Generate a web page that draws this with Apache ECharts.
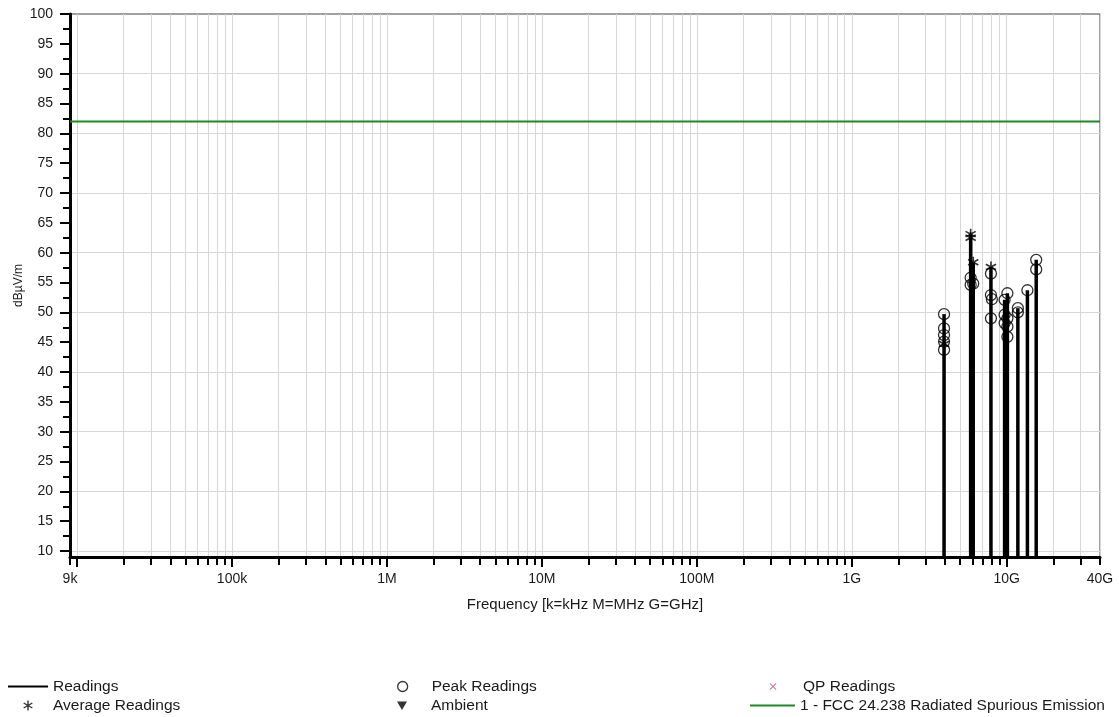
<!DOCTYPE html>
<html><head><meta charset="utf-8">
<script src="https://cdn.jsdelivr.net/npm/echarts@6/dist/echarts.min.js"></script>
<style>html,body{margin:0;padding:0;background:#fff}#c{width:1119px;height:717px}</style>
</head><body><div id="c"></div>
<script>
// ---- data ----
const readingFreqsGHz = [3.94, 5.85, 6.08, 7.91, 9.69, 10.1, 11.8, 13.6, 15.5];
const readingLevels   = [49.7, 63.1, 58.4, 57.6, 52.1, 53.2, 50.7, 53.7, 58.8];

const peakFreqsGHz = [3.94, 3.94, 3.94, 3.94, 3.94, 5.85, 5.85, 6.08, 7.91, 7.91, 8.02, 7.91, 9.69, 9.69, 9.69, 10.1, 10.1, 10.1, 10.1, 11.8, 11.8, 13.6, 15.5, 15.5];
const peakLevels   = [49.7, 47.3, 46.2, 45.1, 43.7, 55.8, 54.6, 54.8, 56.5, 52.9, 52.2, 49.0, 52.1, 49.6, 48.2, 53.2, 49.0, 47.6, 45.9, 50.7, 50.0, 53.7, 58.8, 57.2];

const avgFreqsGHz = [3.94, 5.85, 5.85, 6.08, 7.91];
const avgLevels   = [44.7, 63.1, 62.5, 58.4, 57.6];

const ambientData = [];
const qpData = [];

const limitName = '1 - FCC 24.238 Radiated Spurious Emission';
const limitFreqsHz = [9e3, 4e10];
const limitLevels  = [82, 82];

const xLabelValues = [9e3, 1e5, 1e6, 1e7, 1e8, 1e9, 1e10, 4e10];
const xLabelTexts  = ['9k', '100k', '1M', '10M', '100M', '1G', '10G', '40G'];
const xDecadeExps  = [3, 4, 5, 6, 7, 8, 9, 10];
const xTickMultipliers = [1, 2, 3, 4, 5, 6, 7, 8, 9];
const xMajorTickValues = [1e4, 1e5, 1e6, 1e7, 1e8, 1e9, 1e10];

const yLabelValues = [10, 15, 20, 25, 30, 35, 40, 45, 50, 55, 60, 65, 70, 75, 80, 85, 90, 95, 100];
const yMinorTickValues = [12.5, 17.5, 22.5, 27.5, 32.5, 37.5, 42.5, 47.5, 52.5, 57.5, 62.5, 67.5, 72.5, 77.5, 82.5, 87.5, 92.5, 97.5];
const yGridValues = [10, 20, 30, 40, 50, 60, 70, 80, 90];

const X_MIN = 9e3, X_MAX = 4e10, Y_MIN = 9, Y_MAX = 100;
// ---------------------------------------------------

const xTickValues = [];
xDecadeExps.forEach(e => xTickMultipliers.forEach(m => {
  const v = m * Math.pow(10, e);
  if (v >= X_MIN - 1e-6 && v <= X_MAX + 1e-6) xTickValues.push(v);
}));

const FONT = 'Liberation Sans, Arial, sans-serif';
const TXT = '#1a1a1a';
const GRID_C = '#d6d6d6';
const LIMIT_C = '#1f8a24';
const QP_C = '#c05a7a';

// marker symbols (10x10 box)
const asteriskPath = 'path://M4.3,0 L5.7,0 L5.7,10 L4.3,10 Z M1.02,1.89 L9.68,6.89 L8.98,8.11 L0.32,3.11 Z M0.32,6.89 L8.98,1.89 L9.68,3.11 L1.02,8.11 Z';
const crossPath = 'path://M1,0 L5,4 L9,0 L10,1 L6,5 L10,9 L9,10 L5,6 L1,10 L0,9 L4,5 L0,1 Z';
const triPath = 'path://M0,0 L10,0 L5,9 Z';

// legend icons drawn inside a full W x 11 box (corner anchors keep the box)
function box(w) { return 'M0,0 L0,0 M' + w + ',11 L' + w + ',11 '; }
function lineIcon(w) { return 'path://' + box(w) + 'M0,4.5 L' + w + ',4.5 L' + w + ',6.5 L0,6.5 Z'; }
function asteriskIcon(w) {
  const c = w / 2 - 5;
  const pts = [[[4.3,0],[5.7,0],[5.7,10],[4.3,10]], [[1.02,1.89],[9.68,6.89],[8.98,8.11],[0.32,3.11]], [[0.32,6.89],[8.98,1.89],[9.68,3.11],[1.02,8.11]]];
  return 'path://' + box(w) + pts.map(p => 'M' + p.map(q => (q[0] + c).toFixed(2) + ',' + (q[1] + 0.5).toFixed(2)).join(' L') + ' Z').join(' ');
}
function circleIcon(w) {
  const cx = w / 2, r = 5;
  return 'path://' + box(w) + 'M' + (cx + r) + ',5.5 A' + r + ',' + r + ' 0 1 1 ' + (cx - r) + ',5.5 A' + r + ',' + r + ' 0 1 1 ' + (cx + r) + ',5.5 Z';
}
function triIcon(w) { const cx = w / 2; return 'path://' + box(w) + 'M' + (cx - 5) + ',1.5 L' + (cx + 5) + ',1.5 L' + cx + ',10 Z'; }
function crossIcon(w) {
  const c = w / 2 - 3.5, s = 0.7;
  const p = [[1,0],[5,4],[9,0],[10,1],[6,5],[10,9],[9,10],[5,6],[1,10],[0,9],[4,5],[0,1]];
  return 'path://' + box(w) + 'M' + p.map(q => (q[0] * s + c).toFixed(2) + ',' + (q[1] * s + 2).toFixed(2)).join(' L') + ' Z';
}

const toHz = (arrF, arrV) => arrF.map((f, i) => [f * 1e9, arrV[i]]);

const chart = echarts.init(document.getElementById('c'), null, {renderer: 'canvas'});
const baseX = {type: 'log', logBase: 10, min: X_MIN, max: X_MAX, gridIndex: 0, position: 'bottom'};
const baseY = {type: 'value', min: Y_MIN, max: Y_MAX, gridIndex: 0, position: 'left'};

const legendText = {fontSize: 15.5, color: TXT, fontFamily: FONT, lineHeight: 17};
function oneLegend(left, top, w, item) {
  return {left: left, top: top, orient: 'vertical', itemWidth: w, itemHeight: 11, selectedMode: false,
    symbolKeepAspect: false, padding: 0, textStyle: legendText, data: [item]};
}
const ROW1 = 678, ROW2 = 697;

chart.setOption({
  animation: false,
  backgroundColor: '#fff',
  textStyle: {fontFamily: FONT},
  grid: {left: 70, right: 19, top: 14, bottom: 160, show: true, borderColor: '#444', borderWidth: 1},
  xAxis: [
    Object.assign({}, baseX, {
      name: 'Frequency [k=kHz M=MHz G=GHz]', nameLocation: 'middle', nameGap: 40,
      nameTextStyle: {fontSize: 15, color: TXT, fontFamily: FONT},
      axisLine: {show: true, lineStyle: {color: '#000', width: 3}},
      axisTick: {show: true, inside: false, length: 8, lineStyle: {color: '#000', width: 2}, customValues: xTickValues},
      axisLabel: {show: true, margin: 15, fontSize: 14, color: TXT, fontFamily: FONT, customValues: xLabelValues,
        showMinLabel: true, showMaxLabel: true,
        formatter: function (v) {
          for (let i = 0; i < xLabelValues.length; i++) if (Math.abs(v / xLabelValues[i] - 1) < 1e-6) return xLabelTexts[i];
          return '';
        }},
      splitLine: {show: true, lineStyle: {color: GRID_C, width: 1}},
      minorTick: {show: false}, minorSplitLine: {show: false}
    }),
    Object.assign({}, baseX, {
      axisLine: {show: false},
      axisTick: {show: true, inside: false, length: 10, lineStyle: {color: '#000', width: 2}, customValues: xMajorTickValues},
      axisLabel: {show: false},
      splitLine: {show: false}
    })
  ],
  yAxis: [
    Object.assign({}, baseY, {
      name: 'dBµV/m', nameLocation: 'middle', nameRotate: 90, nameGap: 45, nameMoveOverlap: false,
      nameTextStyle: {fontSize: 12, color: TXT, fontFamily: FONT},
      axisLine: {show: true, lineStyle: {color: '#000', width: 3}},
      axisTick: {show: true, length: 10, lineStyle: {color: '#000', width: 2}, customValues: yLabelValues},
      axisLabel: {show: true, margin: 17, fontSize: 14, color: TXT, fontFamily: FONT, customValues: yLabelValues},
      splitLine: {show: false}
    }),
    Object.assign({}, baseY, {
      axisLine: {show: false},
      axisTick: {show: true, length: 7, lineStyle: {color: '#000', width: 2}, customValues: yMinorTickValues},
      axisLabel: {show: false},
      splitLine: {show: false}
    }),
    Object.assign({}, baseY, {
      axisLine: {show: false},
      axisTick: {show: false, customValues: yGridValues},
      axisLabel: {show: false},
      splitLine: {show: true, lineStyle: {color: GRID_C, width: 1}}
    })
  ],
  legend: [
    oneLegend(8, ROW1, 40, {name: 'Readings', icon: lineIcon(40), itemStyle: {color: '#000', borderWidth: 0}}),
    oneLegend(8, ROW2, 40, {name: 'Average Readings', icon: asteriskIcon(40), itemStyle: {color: '#000', borderWidth: 0}}),
    oneLegend(378, ROW1, 48, {name: 'Peak Readings', icon: circleIcon(48), itemStyle: {color: 'transparent', borderColor: '#000', borderWidth: 1.3}}),
    oneLegend(378, ROW2, 48, {name: 'Ambient', icon: triIcon(48), itemStyle: {color: '#000', borderWidth: 0}}),
    oneLegend(748, ROW1, 50, {name: 'QP Readings', icon: crossIcon(50), itemStyle: {color: QP_C, borderWidth: 0}}),
    oneLegend(750, ROW2, 45, {name: limitName, icon: lineIcon(45), itemStyle: {color: LIMIT_C, borderWidth: 0}})
  ],
  series: [
    {
      name: limitName, type: 'line', xAxisIndex: 0, yAxisIndex: 0, z: 2,
      data: limitFreqsHz.map((f, i) => [f, limitLevels[i]]),
      symbol: 'none', lineStyle: {color: LIMIT_C, width: 2}, itemStyle: {color: LIMIT_C}
    },
    {
      name: 'Readings', type: 'custom', xAxisIndex: 0, yAxisIndex: 0, z: 3,
      encode: {x: 0, y: 1},
      itemStyle: {color: '#000'},
      data: toHz(readingFreqsGHz, readingLevels),
      renderItem: function (params, api) {
        const f = api.value(0), v = api.value(1);
        const pTop = api.coord([f, v]);
        const pBot = api.coord([f, Y_MIN]);
        return {type: 'line', shape: {x1: pBot[0], y1: pBot[1], x2: pTop[0], y2: pTop[1]},
          style: {stroke: '#000', lineWidth: 3.5}};
      }
    },
    {
      name: 'Peak Readings', type: 'scatter', xAxisIndex: 0, yAxisIndex: 0, z: 4,
      data: toHz(peakFreqsGHz, peakLevels),
      symbol: 'circle', symbolSize: 11,
      itemStyle: {color: 'transparent', borderColor: '#000', borderWidth: 1.3}
    },
    {
      name: 'Average Readings', type: 'scatter', xAxisIndex: 0, yAxisIndex: 0, z: 5,
      data: toHz(avgFreqsGHz, avgLevels),
      symbol: asteriskPath, symbolSize: 11,
      itemStyle: {color: '#000'}
    },
    {
      name: 'Ambient', type: 'scatter', xAxisIndex: 0, yAxisIndex: 0,
      data: ambientData, symbol: triPath, symbolSize: 9, itemStyle: {color: '#000'}
    },
    {
      name: 'QP Readings', type: 'scatter', xAxisIndex: 0, yAxisIndex: 0,
      data: qpData, symbol: crossPath, symbolSize: 8, itemStyle: {color: QP_C}
    }
  ]
});
</script>
</body></html>
